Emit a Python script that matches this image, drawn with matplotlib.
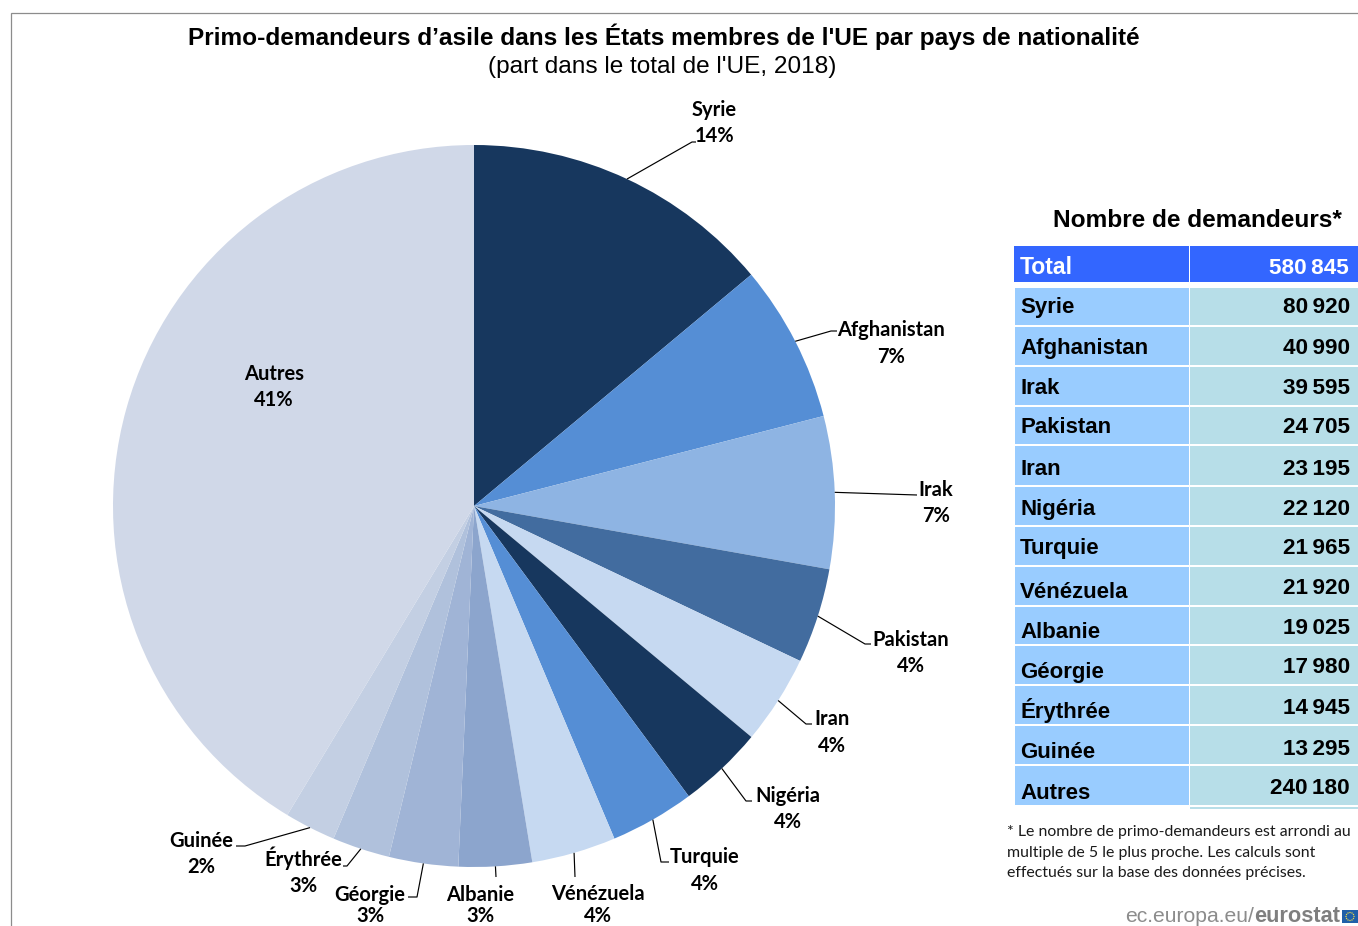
import numpy as np
import matplotlib
matplotlib.use("Agg")
import matplotlib.pyplot as plt
from matplotlib.patches import Rectangle, Circle

W, H = 1358, 926
categories = ["Syrie", "Afghanistan", "Irak", "Pakistan", "Iran", "Nigéria", "Turquie",
              "Vénézuela", "Albanie", "Géorgie", "Érythrée", "Guinée", "Autres"]
counts = [80920, 40990, 39595, 24705, 23195, 22120, 21965, 21920, 19025, 17980, 14945, 13295, 240180]
count_labels = ["80\u2009920", "40\u2009990", "39\u2009595", "24\u2009705", "23\u2009195", "22\u2009120", "21\u2009965",
                "21\u2009920", "19\u2009025", "17\u2009980", "14\u2009945", "13\u2009295", "240\u2009180"]
percents = ["14%", "7%", "7%", "4%", "4%", "4%", "4%", "4%", "3%", "3%", "3%", "2%", "41%"]
total_label = "Total"
total_value = "580\u2009845"

colors = ["#17375E", "#558ED5", "#8EB4E3", "#426C9F", "#C6D9F1", "#17375E", "#558ED5",
          "#C6D9F1", "#8CA5CD", "#A0B4D6", "#B0C1DC", "#C3CFE3", "#D0D8E8"]

ARIAL = "Liberation Sans"
CAL = "Lato"

fig = plt.figure(figsize=(W / 100, H / 100), dpi=100, facecolor="white")
ax = fig.add_axes([0, 0, 1, 1])


def Y(y):
    return H - y


cx, cy, r = 474, 506, 361
wedges, _ = ax.pie(counts, colors=colors, startangle=90, counterclock=False,
                   center=(cx, Y(cy)), radius=r, frame=True,
                   wedgeprops=dict(linewidth=0))
ax.set_xlim(0, W)
ax.set_ylim(0, H)
ax.set_aspect("auto")
ax.axis("off")

# frame
ax.plot([11, 11, W], [Y(H), Y(13), Y(13)], color="#8C8C8C", lw=0.9, solid_joinstyle="miter")

# titles
ax.text(663.5, Y(45), "Primo-demandeurs d’asile dans les États membres de l'UE par pays de nationalité",
        family=ARIAL, weight="bold", fontsize=17.55, ha="center", va="baseline", color="black")
ax.text(662.5, Y(73), "(part dans le total de l'UE, 2018)", family=ARIAL, fontsize=17.55,
        ha="center", va="baseline", color="black")

# pie labels: label centre x, name y, percent y, leader elbow points after the wedge edge
layout = {
    "Syrie": (714, 109, 135, [(692, 142), (696, 142)]),
    "Afghanistan": (891, 329, 356, [(831, 331), (837, 331)]),
    "Irak": (936, 489, 515, [(917, 495)]),
    "Pakistan": (911, 639, 665, [(865, 644), (871, 644)]),
    "Iran": (832, 718, 745, [(806, 724), (812, 724)]),
    "Nigéria": (788, 795, 821, [(746, 801), (752, 801)]),
    "Turquie": (705, 856, 883, [(661, 862), (669, 862)]),
    "Vénézuela": (598, 893, 915, [(575, 877)]),
    "Albanie": (480, 894, 915, [(496, 877)]),
    "Géorgie": (370, 894, 915, [(417, 897), (408, 897)]),
    "Érythrée": (303, 859, 885, [(347, 866), (343, 866)]),
    "Guinée": (201, 840, 866, [(245, 846), (236, 846)]),
}
LS = 14.5
cum = 0
tot = sum(counts)
for name, val, pct in zip(categories, counts, percents):
    mid = (cum + val / 2) / tot * 2 * np.pi
    cum += val
    if name == "Autres":
        ax.text(274, Y(380), name, family=CAL, weight="bold", fontsize=LS, ha="center", va="baseline")
        ax.text(274, Y(406), pct, family=CAL, weight="bold", fontsize=LS, ha="center", va="baseline")
        continue
    lx, ny, py, elbow = layout[name]
    ax.text(lx, Y(ny + 7), name, family=CAL, weight="bold", fontsize=LS, ha="center", va="baseline", color="black")
    ax.text(lx, Y(py + 7), pct, family=CAL, weight="bold", fontsize=LS, ha="center", va="baseline", color="black")
    sx, sy = cx + r * np.sin(mid), cy - r * np.cos(mid)
    xs = [sx] + [p[0] for p in elbow]
    ys = [Y(sy)] + [Y(p[1]) for p in elbow]
    ax.plot(xs, ys, color="black", lw=0.85, solid_capstyle="butt")

# table
ax.text(1197.5, Y(227), "Nombre de demandeurs*", family=ARIAL, weight="bold", fontsize=17.6,
        ha="center", va="baseline", color="black")
x0, xm, x1 = 1014, 1189, W
ax.add_patch(Rectangle((x0, Y(282)), xm - x0, 36, fc="#3366FF", ec="none"))
ax.add_patch(Rectangle((xm + 1, Y(282)), x1 - xm - 1, 36, fc="#3366FF", ec="none"))
ax.text(1020, Y(274), total_label, family=ARIAL, weight="bold", fontsize=16.6, color="white", va="baseline")
ax.text(1349, Y(274), total_value, family=ARIAL, weight="bold", fontsize=16.2, color="white", va="baseline", ha="right")

tops = [288, 327, 367, 407, 446, 487, 527, 567, 607, 646, 686, 726, 766]
bots = [325, 365, 405, 444, 485, 525, 565, 605, 644, 684, 724, 764, 805]
name_y = [313, 354, 394, 433, 475, 515, 554, 598, 638, 678, 718, 758, 799]
val_y = [313, 354, 394, 433, 475, 515, 554, 594, 634, 673, 714, 755, 794]
for name, lab, t, b, ny, vy in zip(categories, count_labels, tops, bots, name_y, val_y):
    ax.add_patch(Rectangle((x0 + 1, Y(b)), xm - x0 - 1, b - t, fc="#99CCFF", ec="none"))
    ax.add_patch(Rectangle((xm + 1, Y(b)), x1 - xm - 1, b - t, fc="#B7DEE8", ec="none"))
    ax.text(1020, Y(ny), name, family=ARIAL, weight="bold", fontsize=16, color="black", va="baseline")
    ax.text(1350, Y(vy), lab, family=ARIAL, weight="bold", fontsize=16.2, color="black", va="baseline", ha="right")
ax.add_patch(Rectangle((xm + 1, Y(809)), x1 - xm - 1, 2, fc="#B7DEE8", ec="none"))

# footnote
for y, line in zip([836, 857, 877], ["* Le nombre de primo-demandeurs est arrondi au",
                                     "multiple de 5 le plus proche. Les calculs sont",
                                     "effectués sur la base des données précises."]):
    ax.text(1007, Y(y), line, family=CAL, fontsize=11.4, va="baseline", color="#1A1A1A")

# credit
ax.text(1254, Y(922), "ec.europa.eu/", family=ARIAL, fontsize=15.2, color="#8C8C8C", ha="right", va="baseline")
ax.text(1254, Y(922), "eurostat", family=ARIAL, weight="bold", fontsize=15.7, color="#7F7F7F", ha="left", va="baseline")
ax.add_patch(Rectangle((1342, Y(923)), 16, 13, fc="#1F5FA8", ec="none"))
for a in np.arange(12) * np.pi / 6:
    ax.add_patch(Circle((1350 + 4 * np.cos(a), Y(916.5) + 4 * np.sin(a)), 0.7, fc="#E8D44A", ec="none"))

fig.savefig("out.png", dpi=100, facecolor="white")
